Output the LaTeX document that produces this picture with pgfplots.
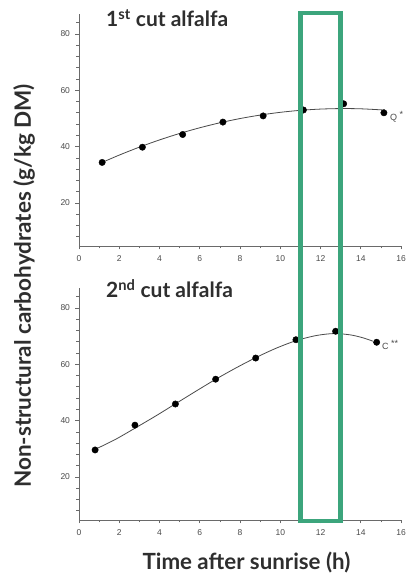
\documentclass[border=0pt]{standalone}
\usepackage{pgfplots}
\pgfplotsset{compat=1.18}
\usepackage{fontspec}
\setmainfont{Lato}
\newfontfamily\tickfont{Liberation Sans}

\definecolor{boxgreen}{HTML}{3CA57C}
\definecolor{axisgray}{HTML}{6A6A6A}
\definecolor{labelgray}{HTML}{4A4A4A}
\definecolor{titlegray}{HTML}{2E2E2E}
\definecolor{curvegray}{HTML}{4A4A4A}

\pgfplotsset{
  alfalfa/.style={
    width=322pt, height=232pt, scale only axis,
    xmin=0, xmax=16, ymin=4.75, ymax=87.05,
    axis lines=left,
    axis line style={-, axisgray, line width=0.9pt},
    xtick={0,2,...,16}, minor xtick={1,3,...,15},
    ytick={20,40,60,80},
    minor ytick={8,12,16,24,28,32,36,44,48,52,56,64,68,72,76,84},
    tick style={axisgray, line width=0.7pt},
    major tick length=3.5pt, minor tick length=2.5pt,
    tick align=outside,
    tick label style={font=\tickfont\fontsize{8.5}{9}\selectfont, text=labelgray},
    /pgf/number format/assume math mode=true,
    xticklabel style={yshift=-3pt},
    yticklabel style={xshift=-2pt},
    clip=false,
  },
  fitcurve/.style={smooth, no marks, color=curvegray, line width=0.8pt},
  obs/.style={only marks, mark=*, mark size=3.2pt, color=black},
}

\begin{document}
\begin{tikzpicture}
% 1st cut
\begin{axis}[alfalfa, at={(79pt,330pt)}, anchor=south west]
  \addplot[fitcurve] coordinates {
    (1.15,34.40) (2,37.00) (3,39.82) (4,42.38) (5,44.67) (6,46.69)
    (7,48.46) (8,49.96) (9,51.19) (10,52.17) (11,52.88) (12,53.32)
    (13,53.50) (14,53.42) (15.2,52.97)};
  \addplot[obs] coordinates {
    (1.15,34.4) (3.15,39.8) (5.15,44.3) (7.15,48.7)
    (9.15,50.9) (11.15,53.0) (13.15,55.2) (15.15,52.0)};
  \coordinate (boxtop) at (axis cs:11,87.4);
\end{axis}
% 2nd cut
\begin{axis}[alfalfa, at={(79pt,56pt)}, anchor=south west]
  \addplot[fitcurve] coordinates {
    (0.8,29.8) (1.8,33.3) (2.8,37.4) (3.8,41.6) (4.8,46.0) (5.8,50.4)
    (6.8,54.7) (7.8,58.7) (8.8,62.4) (9.8,65.7) (10.8,68.4) (11.8,70.2)
    (12.7,70.9) (13.5,70.4) (14.1,69.4) (14.6,68.2)};
  \addplot[obs] coordinates {
    (0.80,29.6) (2.78,38.4) (4.79,45.9) (6.79,54.7)
    (8.78,62.2) (10.78,68.7) (12.75,71.7) (14.79,67.8)};
  \coordinate (boxbot) at (axis cs:13,4.3);
\end{axis}

% highlighted midday window, 11 to 13 h
\draw[boxgreen, line width=4.3pt] (boxtop) rectangle (boxbot);

% panel titles
\node[anchor=base west, inner sep=0pt, text=titlegray, font=\bfseries\fontsize{21}{21}\selectfont]
  at (106pt,549pt) {1\textsuperscript{st} cut alfalfa};
\node[anchor=base west, inner sep=0pt, text=titlegray, font=\bfseries\fontsize{21}{21}\selectfont]
  at (106pt,278pt) {2\textsuperscript{nd} cut alfalfa};

% regression significance
\node[anchor=west, inner sep=0pt, text=labelgray, font=\tickfont\fontsize{9}{9}\selectfont]
  at (390pt,459pt) {Q \raisebox{2.5pt}{*}};
\node[anchor=west, inner sep=0pt, text=labelgray, font=\tickfont\fontsize{9}{9}\selectfont]
  at (382pt,231pt) {C \raisebox{2.5pt}{**}};

% axis titles
\node[anchor=base, inner sep=0pt, text=titlegray, font=\bfseries\fontsize{22.3}{22.3}\selectfont]
  at (246.5pt,6pt) {Time after sunrise (h)};
\node[rotate=90, inner sep=0pt, text=titlegray, font=\bfseries\fontsize{22.5}{22.5}\selectfont]
  at (24pt,290pt) {Non-structural carbohydrates (g/kg DM)};

\pgfresetboundingbox
\path (0pt,0pt) rectangle (406pt,576pt);
\end{tikzpicture}
\end{document}
